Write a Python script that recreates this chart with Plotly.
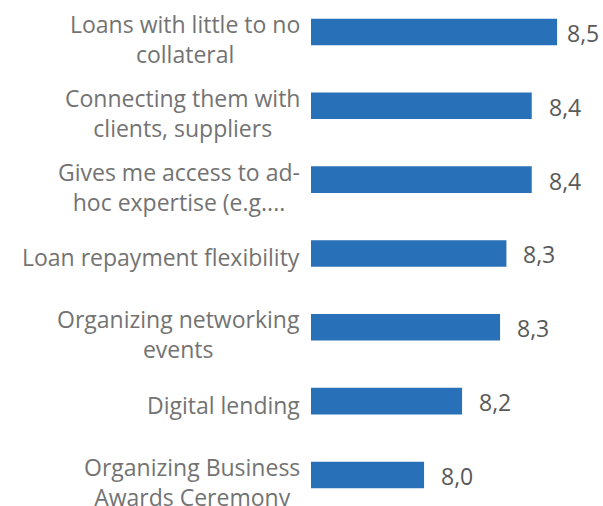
import plotly.graph_objects as go

categories = [
    "Loans with little to no<br>collateral",
    "Connecting them with<br>clients, suppliers",
    "Gives me access to ad-<br>hoc expertise (e.g....",
    "Loan repayment flexibility",
    "Organizing networking<br>events",
    "Digital lending",
    "Organizing Business<br>Awards Ceremony",
]
values = [8.46, 8.38, 8.38, 8.30, 8.28, 8.16, 8.04]
value_labels = [f"{v:.1f}".replace(".", ",") for v in values]

AXIS_MIN = 7.683
AXIS_MAX = 8.605

BAR_COLOR = "#2870b8"
CAT_COLOR = "#737373"
VAL_COLOR = "#595959"
FONT = "Open Sans"

W, H = 603, 506
ML = 311
PLOT_W = W - ML

idx = list(range(len(categories)))

fig = go.Figure()
fig.add_trace(go.Bar(
    x=[v - AXIS_MIN for v in values], y=idx, orientation="h",
    base=AXIS_MIN,
    marker=dict(color=BAR_COLOR, line=dict(width=0)),
    hoverinfo="skip",
))

annotations = []
for i, (c, v, t) in enumerate(zip(categories, values, value_labels)):
    n_lines = len(c.split("<br>"))
    annotations.append(dict(
        x=0, xref="paper", y=i, yref="y", text=c, showarrow=False,
        xanchor="right", yanchor="middle", align="center",
        xshift=-9, yshift=(-4 if n_lines == 1 else -7),
        font=dict(family=FONT, size=23, color=CAT_COLOR),
    ))
    px_end = (v - AXIS_MIN) / (AXIS_MAX - AXIS_MIN) * PLOT_W
    if px_end + 15 + 34 > PLOT_W - 2:
        annotations.append(dict(
            x=1, xref="paper", y=i, yref="y", text=t, showarrow=False,
            xanchor="right", yanchor="middle", xshift=-2, yshift=-1,
            font=dict(family=FONT, size=23, color=VAL_COLOR),
        ))
    else:
        annotations.append(dict(
            x=v, xref="x", y=i, yref="y", text=t, showarrow=False,
            xanchor="left", yanchor="middle", xshift=15, yshift=-1,
            font=dict(family=FONT, size=23, color=VAL_COLOR),
        ))

fig.update_layout(
    width=W, height=H,
    margin=dict(l=ML, r=0, t=0, b=0),
    paper_bgcolor="white", plot_bgcolor="white",
    showlegend=False,
    bargap=0.64,
    xaxis=dict(range=[AXIS_MIN, AXIS_MAX], visible=False, showgrid=False, zeroline=False),
    yaxis=dict(range=[6.42, -0.433], visible=False, showgrid=False, zeroline=False),
    annotations=annotations,
)

fig.write_html(
    "out.html",
    config={"displayModeBar": False},
    post_script="document.body.style.margin='0';document.body.style.overflow='hidden';",
)
